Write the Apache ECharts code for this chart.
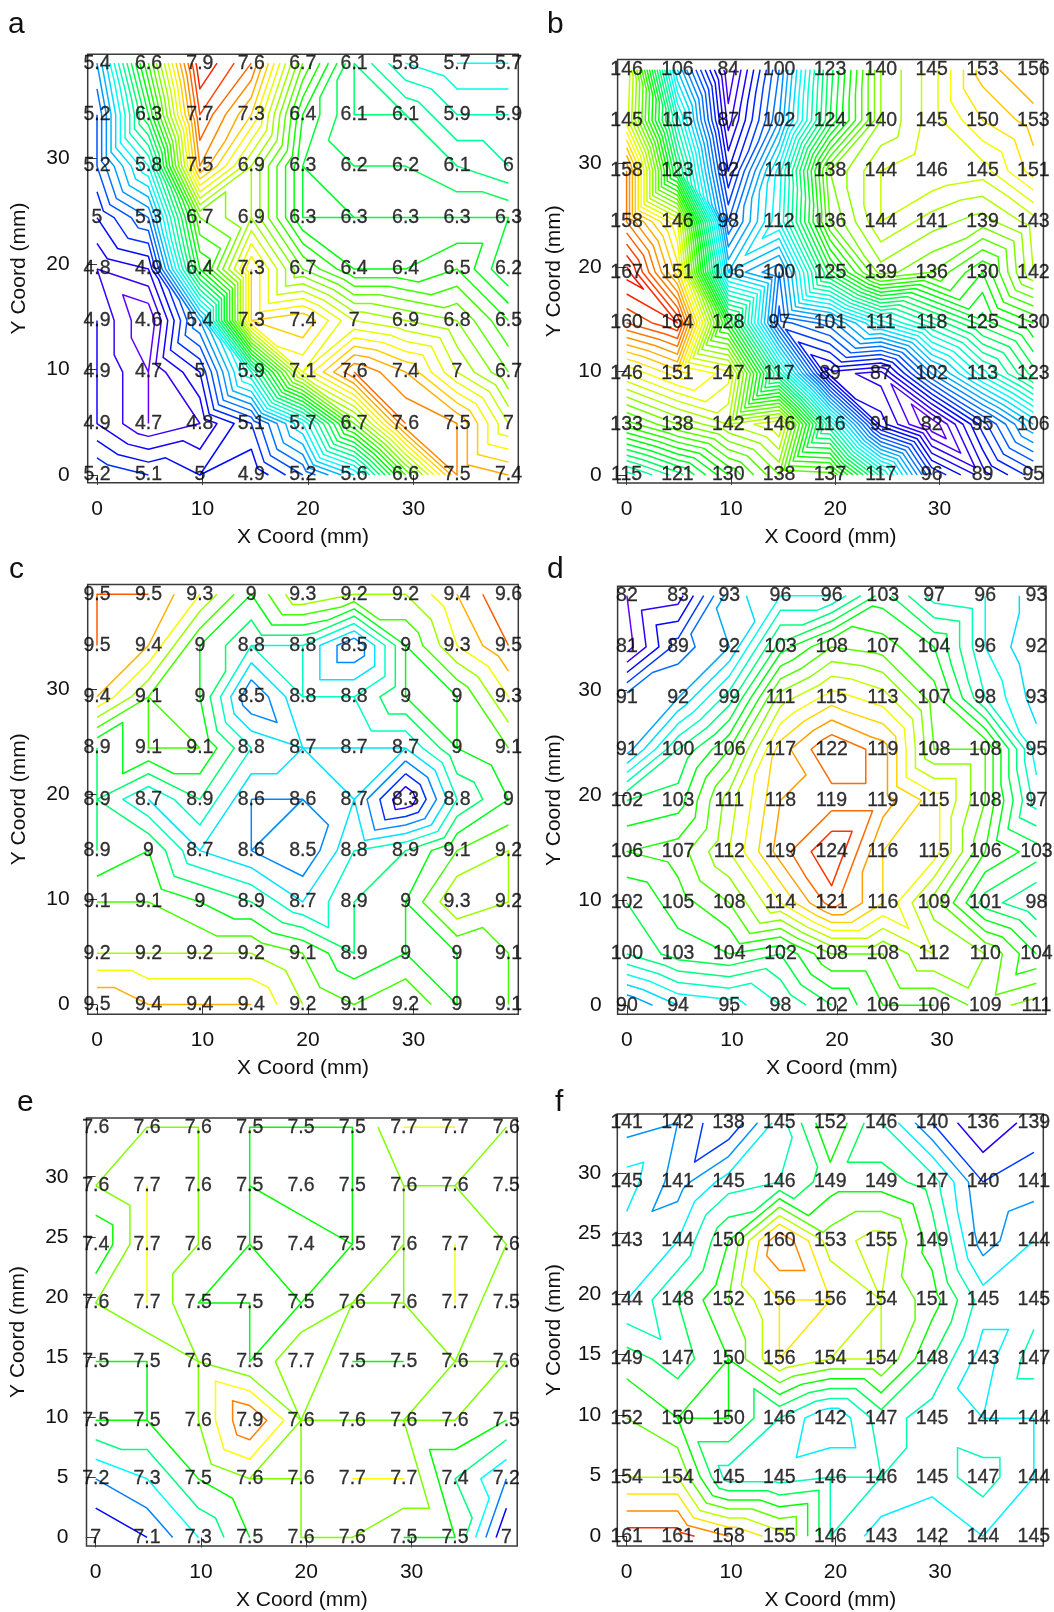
<!DOCTYPE html>
<html>
<head>
<meta charset="utf-8">
<script src="https://cdn.jsdelivr.net/npm/echarts@6/dist/echarts.min.js"></script>
<style>html,body{margin:0;padding:0;background:#fff}#c{width:1054px;height:1612px}</style>
</head>
<body>
<div id="c"></div>
<script>
const xCoords = [0, 4.875, 9.75, 14.625, 19.5, 24.375, 29.25, 34.125, 39];
const yCoords9 = [39, 34.125, 29.25, 24.375, 19.5, 14.625, 9.75, 4.875, 0];
const yCoords8 = [34.125, 29.25, 24.375, 19.5, 14.625, 9.75, 4.875, 0];
const letters = ['a', 'b', 'c', 'd', 'e', 'f'];
const xTicks = [0, 10, 20, 30];
const yTicksWide = [0, 10, 20, 30];
const yTicksNarrow = [0, 5, 10, 15, 20, 25, 30];

const valuesA = [
 [5.4,6.6,7.9,7.6,6.7,6.1,5.8,5.7,5.7],
 [5.2,6.3,7.7,7.3,6.4,6.1,6.1,5.9,5.9],
 [5.2,5.8,7.5,6.9,6.3,6.2,6.2,6.1,6],
 [5,5.3,6.7,6.9,6.3,6.3,6.3,6.3,6.3],
 [4.8,4.9,6.4,7.3,6.7,6.4,6.4,6.5,6.2],
 [4.9,4.6,5.4,7.3,7.4,7,6.9,6.8,6.5],
 [4.9,4.7,5,5.9,7.1,7.6,7.4,7,6.7],
 [4.9,4.7,4.8,5.1,5.7,6.7,7.6,7.5,7],
 [5.2,5.1,5,4.9,5.2,5.6,6.6,7.5,7.4]];
const valuesB = [
 [146,106,84,100,123,140,145,153,156],
 [145,115,87,102,124,140,145,150,153],
 [158,123,92,111,138,144,146,145,151],
 [158,146,98,112,136,144,141,139,143],
 [167,151,106,100,125,139,136,130,142],
 [160,164,128,97,101,111,118,125,130],
 [146,151,147,117,89,87,102,113,123],
 [133,138,142,146,116,91,82,95,106],
 [115,121,130,138,137,117,96,89,95]];
const valuesC = [
 [9.5,9.5,9.3,9,9.3,9.2,9.2,9.4,9.6],
 [9.5,9.4,9,8.8,8.8,8.5,9,9.3,9.5],
 [9.4,9.1,9,8.5,8.8,8.8,9,9,9.3],
 [8.9,9.1,9.1,8.8,8.7,8.7,8.7,9,9.1],
 [8.9,8.7,8.9,8.6,8.6,8.7,8.3,8.8,9],
 [8.9,9,8.7,8.6,8.5,8.8,8.9,9.1,9.2],
 [9.1,9.1,9,8.9,8.7,8.9,9,9.3,9.2],
 [9.2,9.2,9.2,9.2,9.1,8.9,9,9,9.1],
 [9.5,9.4,9.4,9.4,9.2,9.1,9.2,9,9.1]];
const valuesD = [
 [82,83,93,96,96,103,97,96,93],
 [81,89,92,103,108,107,104,96,92],
 [91,92,99,111,115,113,107,98,93],
 [91,100,106,117,122,119,108,108,95],
 [102,103,111,118,119,119,115,108,97],
 [106,107,112,119,124,116,115,106,103],
 [102,105,108,114,121,116,109,101,98],
 [100,103,104,102,108,108,112,110,104],
 [90,94,95,98,102,106,106,109,111]];
const valuesE = [
 [7.6,7.6,7.6,7.5,7.5,7.5,7.7,7.7,7.6],
 [7.6,7.7,7.6,7.5,7.6,7.5,7.6,7.6,7.5],
 [7.4,7.7,7.6,7.5,7.4,7.5,7.6,7.7,7.6],
 [7.6,7.7,7.5,7.5,7.5,7.6,7.6,7.7,7.5],
 [7.5,7.5,7.6,7.5,7.7,7.5,7.5,7.6,7.6],
 [7.5,7.5,7.6,7.9,7.6,7.6,7.6,7.6,7.5],
 [7.2,7.3,7.5,7.6,7.6,7.7,7.7,7.4,7.2],
 [7,7.1,7.3,7.5,7.6,7.6,7.5,7.5,7]];
const valuesF = [
 [141,142,138,145,152,146,140,136,139],
 [145,141,145,146,149,149,147,140,141],
 [143,144,150,160,153,155,149,141,144],
 [144,148,152,156,156,154,151,145,145],
 [149,147,150,156,154,154,148,143,147],
 [152,150,150,146,142,147,145,144,144],
 [154,154,145,145,146,146,145,147,144],
 [161,161,158,155,146,143,142,144,145]];

const contourStepTenths = [1, 20, 1, 20, 1, 20]; // contour spacing in tenths of a unit

// grid cells the reference splits along the falling diagonal ("col,rowFromBottom"); the others use the rising one
const fallingCells = ['6,0','0,1','1,1','4,1','5,1','6,1','2,2','3,2','0,3','1,3','6,3',
  '1,4','3,4','4,4','1,5','3,5','4,5','6,5','7,5','3,6','5,6','6,6','0,7','5,7'];

// frame layout: plot box in px and the px position / px-per-mm of the axes
const frames = [
 {l:87.7, r:518.3, t:54.3,  b:482.7,  x0:97,    sx:10.55, y0:475,    sy:10.56, nameGap:58, margin:18},
 {l:617.6,r:1043.4,t:59.6,  b:483,    x0:626.6, sx:10.43, y0:474.9,  sy:10.39, nameGap:53, margin:16},
 {l:87.7, r:518.3, t:584.4, b:1014.2, x0:97,    sx:10.55, y0:1004.5, sy:10.52, nameGap:58, margin:18},
 {l:617.6,r:1046,  t:586.2, b:1014.2, x0:626.9, sx:10.5,  y0:1005.2, sy:10.5,  nameGap:53, margin:16},
 {l:86.5, r:517.2, t:1118,  b:1548,   x0:95.7,  sx:10.53, y0:1539.4, sy:12.08, nameGap:58, margin:18},
 {l:617.3,r:1043.3,t:1114,  b:1548.3, x0:626.7, sx:10.44, y0:1538.5, sy:12.18, nameGap:53, margin:16}
];
const letterPos = [[8,10],[547,10],[9,555],[547,555],[17,1088],[555,1088]];

const panels = [
 {v:valuesA, ys:yCoords9, yt:yTicksWide},
 {v:valuesB, ys:yCoords9, yt:yTicksWide},
 {v:valuesC, ys:yCoords9, yt:yTicksWide},
 {v:valuesD, ys:yCoords9, yt:yTicksWide},
 {v:valuesE, ys:yCoords8, yt:yTicksNarrow},
 {v:valuesF, ys:yCoords8, yt:yTicksNarrow}
];

const FONT = '"Liberation Sans", Arial, sans-serif';
const EPS = 1e-7;

function contourSegments(vals, ys, level) {
  const segs = [], seen = new Set();
  const add = (p, q) => {
    const a = p[0].toFixed(4) + ',' + p[1].toFixed(4), b = q[0].toFixed(4) + ',' + q[1].toFixed(4);
    if (a === b) return;
    const k = a < b ? a + '|' + b : b + '|' + a;
    if (seen.has(k)) return;
    seen.add(k);
    segs.push([p, q, a, b]);
  };
  const cross = (A, B) => {
    const t = (level - A[2]) / (B[2] - A[2]);
    return [A[0] + t * (B[0] - A[0]), A[1] + t * (B[1] - A[1])];
  };
  const tri = (A, B, C) => {
    const pts = [A, B, C], s = pts.map(P => Math.abs(P[2] - level) < EPS ? 0 : (P[2] > level ? 1 : -1));
    const zeros = [0,1,2].filter(i => s[i] === 0);
    if (zeros.length === 3) return;
    if (zeros.length === 2) { add(pts[zeros[0]], pts[zeros[1]]); return; }
    if (zeros.length === 1) {
      const o = [0,1,2].filter(i => s[i] !== 0);
      if (s[o[0]] !== s[o[1]]) add(pts[zeros[0]], cross(pts[o[0]], pts[o[1]]));
      return;
    }
    const c = [];
    [[0,1],[1,2],[2,0]].forEach(([i,j]) => { if (s[i] !== s[j]) c.push(cross(pts[i], pts[j])); });
    if (c.length === 2) add(c[0], c[1]);
  };
  const rows = vals.length;
  for (let r = 0; r < rows - 1; r++) for (let i = 0; i < xCoords.length - 1; i++) {
    const tl = [xCoords[i], ys[r], vals[r][i]], tr = [xCoords[i+1], ys[r], vals[r][i+1]];
    const br = [xCoords[i+1], ys[r+1], vals[r+1][i+1]], bl = [xCoords[i], ys[r+1], vals[r+1][i]];
    if (fallingCells.includes(i + ',' + (rows - 2 - r))) { tri(tl,tr,br); tri(tl,bl,br); }
    else { tri(bl,tr,tl); tri(bl,tr,br); }
  }
  return segs;
}

// chain segments into polylines separated by gaps
function chain(segs) {
  const byKey = {};
  segs.forEach((s, i) => { (byKey[s[2]] = byKey[s[2]] || []).push(i); (byKey[s[3]] = byKey[s[3]] || []).push(i); });
  const used = new Array(segs.length).fill(false), out = [];
  const walk = (key, line, atEnd) => {
    for (;;) {
      const n = (byKey[key] || []).find(i => !used[i]);
      if (n === undefined) return;
      used[n] = true;
      const s = segs[n], fwd = s[2] === key, p = fwd ? s[1] : s[0];
      key = fwd ? s[3] : s[2];
      if (atEnd) line.push(p); else line.unshift(p);
    }
  };
  segs.forEach((s, i) => {
    if (used[i]) return;
    used[i] = true;
    const line = [s[0], s[1]];
    walk(s[3], line, true);
    walk(s[2], line, false);
    line.forEach(p => out.push([p[0], p[1]]));
    out.push([NaN, NaN]);
  });
  return out;
}

const grid = [], xAxis = [], yAxis = [], series = [], graphic = [];
panels.forEach((P, idx) => {
  const F = frames[idx];
  grid.push({left:F.l, top:F.t, width:F.r-F.l, height:F.b-F.t, show:true, borderColor:'#3a3a3a', borderWidth:1.5, backgroundColor:'transparent', containLabel:false});
  xAxis.push({type:'value', gridIndex:idx, min:(F.l-F.x0)/F.sx, max:(F.r-F.x0)/F.sx,
    name:'X Coord (mm)', nameLocation:'middle', nameGap:44,
    nameTextStyle:{fontFamily:FONT, fontSize:21, color:'#111'},
    splitLine:{show:false}, axisLine:{show:false},
    axisTick:{show:true, length:10, customValues:xTicks, lineStyle:{color:'#3a3a3a', width:1}},
    axisLabel:{show:true, margin:16, customValues:xTicks, fontFamily:FONT, fontSize:21, color:'#111', hideOverlap:false, showMinLabel:true}});
  yAxis.push({type:'value', gridIndex:idx, min:(F.y0-F.b)/F.sy, max:(F.y0-F.t)/F.sy,
    name:'Y Coord (mm)', nameLocation:'middle', nameGap:F.nameGap,
    nameTextStyle:{fontFamily:FONT, fontSize:21, color:'#111'},
    splitLine:{show:false}, axisLine:{show:false},
    axisTick:{show:true, length:10, customValues:P.yt, lineStyle:{color:'#3a3a3a', width:1}},
    axisLabel:{show:true, margin:F.margin, customValues:P.yt, fontFamily:FONT, fontSize:21, color:'#111', hideOverlap:false}});

  const flat = P.v.flat(), vmin = Math.min(...flat), vmax = Math.max(...flat), st = contourStepTenths[idx];
  const kStart = Math.ceil(vmin * 10 / st - 1e-6), kEnd = Math.floor(vmax * 10 / st + 1e-6);
  for (let k = kStart; k <= kEnd; k++) {
    const level = k * st / 10;
    const hue = 270 * (vmax - level) / (vmax - vmin);
    const data = chain(contourSegments(P.v, P.ys, level));
    if (!data.length) continue;
    series.push({type:'line', xAxisIndex:idx, yAxisIndex:idx, data, symbol:'none', silent:true,
      animation:false, connectNulls:false, clip:true, z:2,
      lineStyle:{color:'hsl(' + hue.toFixed(1) + ',100%,50%)', width:1.5, join:'round'}});
  }
  const pts = [];
  P.v.forEach((row, r) => row.forEach((val, i) => pts.push([xCoords[i], P.ys[r], val])));
  series.push({type:'scatter', xAxisIndex:idx, yAxisIndex:idx, data:pts, symbolSize:1, silent:true, animation:false, clip:false, z:5,
    itemStyle:{color:'transparent'},
    label:{show:true, position:'inside', formatter:p => String(p.value[2]), fontFamily:FONT, fontSize:19.5, color:'#000', textBorderColor:'#000', textBorderWidth:0.3}});
  graphic.push({type:'text', silent:true, z:10, x:letterPos[idx][0], y:letterPos[idx][1],
    style:{text:letters[idx], font:'30px ' + FONT, fill:'#111'}});
});

const chart = echarts.init(document.getElementById('c'), null, {renderer:'canvas', width:1054, height:1612});
chart.setOption({animation:false, backgroundColor:'#fff', grid, xAxis, yAxis, series, graphic});
</script>
</body>
</html>
